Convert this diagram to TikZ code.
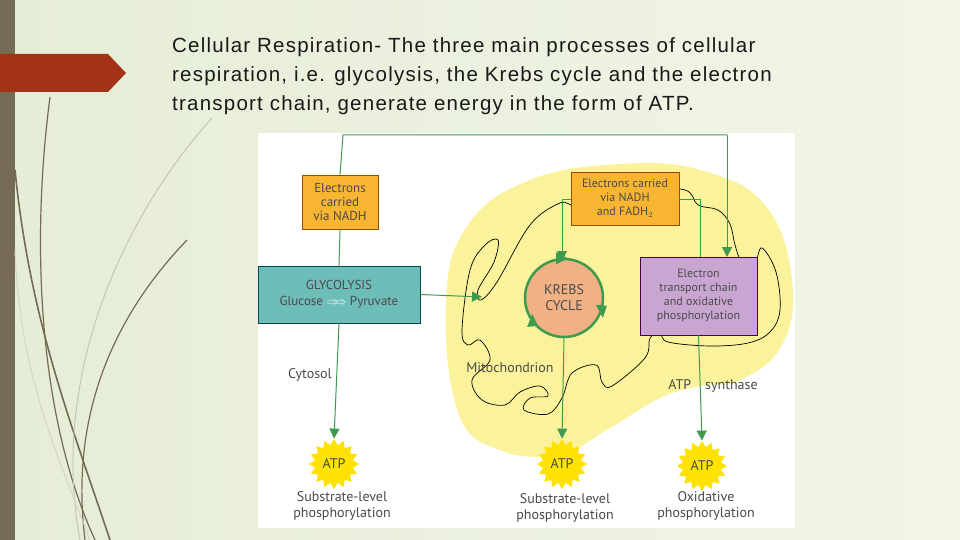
\documentclass[tikz,border=0pt]{standalone}
\usepackage{fontspec}
\setmainfont{Liberation Sans}
\newfontfamily\hand{PT Sans}
\usetikzlibrary{shapes.misc,shapes.geometric,arrows.meta}
\definecolor{bgA}{HTML}{E6EDD6}
\definecolor{bgB}{HTML}{F1F5E8}
\definecolor{olive}{HTML}{756B55}
\definecolor{banner}{HTML}{A33216}
\definecolor{gline}{HTML}{3E9A4F}
\definecolor{orbox}{HTML}{F7B531}
\definecolor{tealbox}{HTML}{6DBDB9}
\definecolor{purp}{HTML}{C9A6D1}
\definecolor{krebs}{HTML}{F2B184}
\definecolor{mito}{HTML}{FBF39B}
\definecolor{txt}{HTML}{4A4A4A}
\begin{document}
\begin{tikzpicture}[x=1pt,y=-1pt,
  box/.style={draw=#1!60!black,line width=0.8pt,inner sep=2pt,align=center,font=\hand\fontsize{13}{14}\selectfont,text=txt},
  gl/.style={gline,line width=1pt},
  ga/.style={gline,line width=1pt,-{Triangle[length=10pt,width=10pt]}},
  lbl/.style={font=\hand\fontsize{14}{16}\selectfont,text=txt,align=center},
  atpstar/.style={star,star points=16,star point ratio=1.3,fill=yellow!85!orange,draw=none,minimum size=50pt,inner sep=0pt}]
\useasboundingbox (0,0) rectangle (960,540);
\shade[left color=bgA,right color=bgB] (0,0) rectangle (960,540);
\fill[olive] (0,0) rectangle (15,540);
% decorative curves
\draw[olive,line width=1.6pt] (15,170) .. controls (30,320) and (70,420) .. (110,540);
\draw[olive,line width=1.2pt] (50,97) .. controls (30,250) and (40,420) .. (95,540);
\draw[olive,line width=1.2pt] (187,240) .. controls (110,320) and (70,420) .. (85,540);
\draw[olive!40,line width=1pt] (212,118) .. controls (120,220) and (50,380) .. (80,540);
\draw[olive!30,line width=1pt] (15,250) .. controls (20,380) and (60,460) .. (90,540);
\fill[banner] (0,54) -- (108,54) -- (126,73) -- (108,92) -- (0,92) -- cycle;
\node[anchor=north west,inner sep=0pt,align=left,font=\fontsize{20.5}{29}\selectfont\addfontfeatures{LetterSpace=6},text=black!90] (title) at (172,37)
{Cellular Respiration- The three main processes of cellular\\respiration, i.e. glycolysis, the Krebs cycle and the electron\\transport chain, generate energy in the form of ATP.};
% panel
\fill[white] (258,133) rectangle (795,528);
% mitochondrion
\fill[mito] plot[smooth cycle,tension=0.7] coordinates {(446,300) (468,225) (530,180) (620,164) (700,170) (765,205) (792,280) (782,345) (740,380) (700,386) (660,398) (610,428) (560,454) (500,450) (458,412)};
\draw[black,line width=0.7pt] plot[smooth cycle,tension=0.6] coordinates {(462,330) (470,270) (485,245) (498,240) (494,262) (478,290) (481,300) (497,282) (530,225) (560,203) (575,205) (600,192) (640,188) (685,190) (698,205) (718,210) (730,224) (735,245) (742,262) (755,262) (762,248) (776,272) (780,310) (770,332) (748,343) (710,346) (668,342) (660,333) (650,338) (645,358) (612,386) (602,382) (596,365) (572,373) (562,398) (548,414) (524,410) (530,398) (548,396) (540,386) (520,392) (505,405) (482,400) (472,380) (490,360) (480,340) (468,345)};
% boxes
\node[box=orange,fill=orbox,minimum width=76pt,minimum height=54pt] (eL) at (340,202) {Electrons\\carried\\via NADH};
\node[box=teal,fill=tealbox,minimum width=162pt,minimum height=57pt] (gly) at (339,294.5) {GLYCOLYSIS\\[2pt]Glucose \textcolor{white}{$\Rightarrow\!\!\Rightarrow$} Pyruvate};
\node[box=orange,fill=orbox,minimum width=108pt,minimum height=53pt,font=\hand\fontsize{12}{14}\selectfont] (eR) at (625,198.5) {Electrons carried\\via NADH\\and FADH$_2$};
\node[box=violet,fill=purp,minimum width=117pt,minimum height=78pt,font=\hand\fontsize{12}{14}\selectfont] (etc) at (698.5,296) {Electron\\transport chain\\and oxidative\\phosphorylation};
\node[circle,fill=krebs,draw=gline,line width=2.5pt,minimum size=78pt,font=\hand\fontsize{14}{16}\selectfont,align=center,text=txt] (kr) at (564,298) {KREBS\\CYCLE};
\fill[gline] (kr.100) ++(-1,-6) -- ++(12,6) -- ++(-12,6) -- cycle;
\fill[gline] (kr.-20) ++(-6,-7) -- ++(11,1) -- ++(-4,12) -- cycle;
\fill[gline] (kr.220) ++(-1,-10) -- ++(6,12) -- ++(-11,1) -- cycle;
% connectors
\coordinate (tl) at (343,135);
\coordinate (tr) at (727,135);
\draw[gl] (eL.north) -- (tl) -- (tr);
\draw[ga] (tr) -- (727,257);
\draw[gl] (eL.south) -- (gly.north);
\coordinate (mitoIn) at (482,297);
\draw[ga] (gly.east) -- (mitoIn);
\draw[gl] (eR.east) ++(0,1) -- (700,199.5) -- (700,257);
\draw[ga] (eR.west) ++(0,1) -- (562,199.5) -- (562,261);
% ATP stars
\node[atpstar] (s1) at (334,464) {};
\node[atpstar] (s2) at (562,464) {};
\node[atpstar] (s3) at (702,466) {};
\node[lbl] at (s1) {ATP};
\node[lbl] at (s2) {ATP};
\node[lbl] at (s3) {ATP};
\draw[ga] (gly.south) -- (s1.north);
\draw[ga] (kr.south) -- (s2.north);
\draw[ga] (etc.south) -- (s3.north);
\node[lbl] (l1) at (342,506) {Substrate-level\\phosphorylation};
\node[lbl] (l2) at (565,508) {Substrate-level\\phosphorylation};
\node[lbl] (l3) at (706,506) {Oxidative\\phosphorylation};
\node[lbl] (cy) at (310,375) {Cytosol};
\node[lbl] (mi) at (510,368) {Mitochondrion};
\node[lbl] (as) at (713,386) {ATP\quad synthase};
\end{tikzpicture}
\end{document}
